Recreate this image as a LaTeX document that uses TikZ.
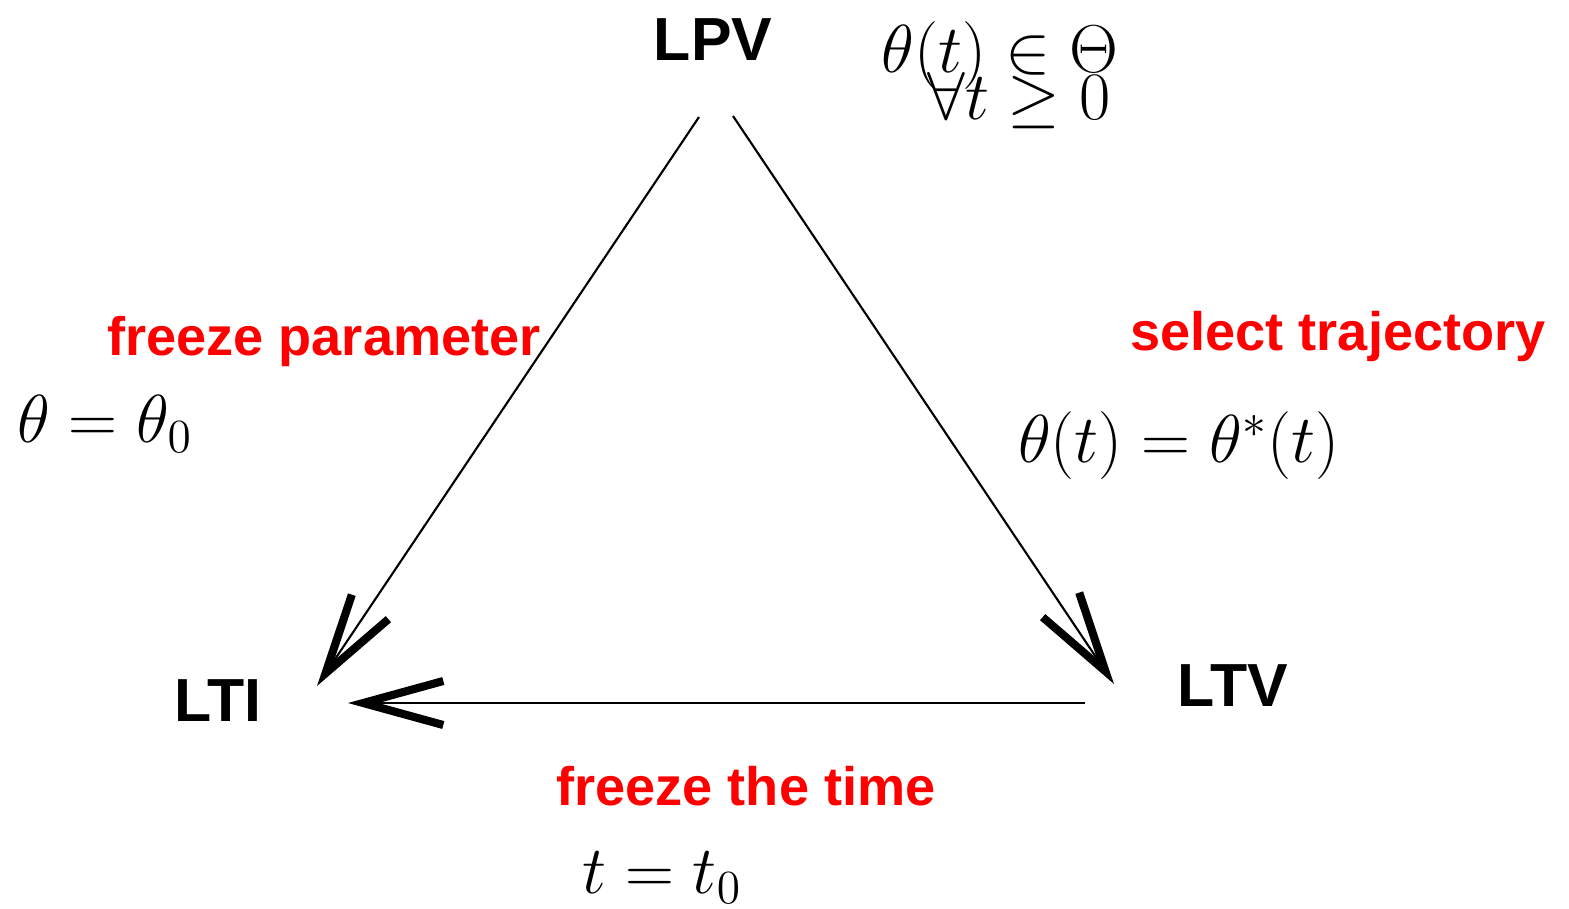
\RequirePackage{fix-cm}
\documentclass[tikz,border=0pt]{standalone}
\usepackage[no-math]{fontspec}
\newfontfamily\labelsans{Liberation Sans}
\usetikzlibrary{arrows.meta}
\definecolor{LabelRed}{RGB}{255,0,0}
\tikzset{
  sysnode/.style={font=\labelsans\bfseries\fontsize{17.3}{20}\selectfont,
    inner sep=0pt,anchor=base},
  redlabel/.style={text=LabelRed,font=\labelsans\bfseries\fontsize{15.4}{18}\selectfont,
    inner sep=0pt,anchor=base},
  mathlabel/.style={font=\fontsize{19.3}{23}\selectfont,inner sep=0pt,anchor=base},
  flow/.style={line width=0.6pt,
    -{Straight Barb[length=8mm,width=4.4mm,line width=2.3pt,sharp]}}
}

\begin{document}
\begin{tikzpicture}[x=0.01cm,y=-0.01cm]
  \useasboundingbox (0,0) rectangle (1569,908);
  % the three systems
  \node[sysnode] (lpv) at (713,60) {LPV};
  \node[sysnode] (lti) at (218,721) {LTI};
  \node[sysnode] (ltv) at (1233,706) {LTV};
  % arrow ends
  \coordinate (lpvL) at (699,117);
  \coordinate (lpvR) at (733,116);
  \coordinate (ltiTop) at (317,686);
  \coordinate (ltiRight) at (348,703);
  \coordinate (ltvTop) at (1114,684);
  \coordinate (ltvLeft) at (1085,703);
  \draw[flow] (lpvL) -- (ltiTop);
  \draw[flow] (lpvR) -- (ltvTop);
  \draw[flow] (ltvLeft) -- (ltiRight);
  % labels
  \node[mathlabel] (range) at (1000,72) {$\theta(t)\in\Theta$};
  \node[mathlabel] (alltime) at (1019,119) {$\forall t\geq 0$};
  \node[redlabel] (freezepar) at (324,355) {freeze parameter};
  \node[mathlabel] (fixpar) at (105,442) {$\theta=\theta_0$};
  \node[redlabel] (seltraj) at (1338,350) {select trajectory};
  \node[mathlabel] (traj) at (1179,462) {$\theta(t)=\theta^*(t)$};
  \node[redlabel] (freezetime) at (746,805) {freeze the time};
  \node[mathlabel] (fixtime) at (662,893) {$t=t_0$};
\end{tikzpicture}
\end{document}
